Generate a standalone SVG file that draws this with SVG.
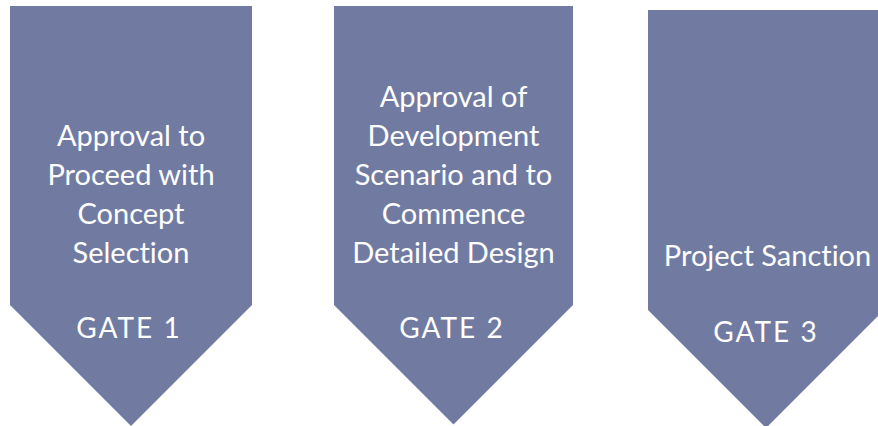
<svg xmlns="http://www.w3.org/2000/svg" width="878" height="426" viewBox="0 0 878 426">
  <style>
    .gate { fill: #717ba2; stroke: none; }
    .label { fill: #ffffff; font-family: Lato, "Open Sans", "Liberation Sans", sans-serif; font-size: 29px; text-anchor: middle; font-variant-ligatures: none; }
    .tag { fill: #ffffff; font-family: Lato, "Open Sans", "Liberation Sans", sans-serif; font-size: 28px; text-anchor: middle; letter-spacing: 2px; }
  </style>
  <rect width="878" height="426" fill="#ffffff"/>

  <g id="gate1">
    <polygon class="gate" points="10,6 252,6 252,305 131,426 10,305"/>
    <text class="label" x="131" y="146">Approval to</text>
    <text class="label" x="131" y="185">Proceed with</text>
    <text class="label" x="131" y="224">Concept</text>
    <text class="label" x="131" y="263">Selection</text>
    <text class="tag" x="129" y="337.5">GATE 1</text>
  </g>

  <g id="gate2">
    <polygon class="gate" points="334,6 573,6 573,305 453.5,424.5 334,305"/>
    <text class="label" x="453.5" y="107">Approval of</text>
    <text class="label" x="453.5" y="146">Development</text>
    <text class="label" x="453.5" y="185">Scenario and to</text>
    <text class="label" x="453.5" y="224">Commence</text>
    <text class="label" x="453.5" y="263">Detailed Design</text>
    <text class="tag" x="452" y="338">GATE 2</text>
  </g>

  <g id="gate3">
    <polygon class="gate" points="648,10 884,10 884,310 766,428 648,310"/>
    <text class="label" x="767.5" y="266">Project Sanction</text>
    <text class="tag" x="766" y="341.5">GATE 3</text>
  </g>

  <g id="connectors"></g>
</svg>
